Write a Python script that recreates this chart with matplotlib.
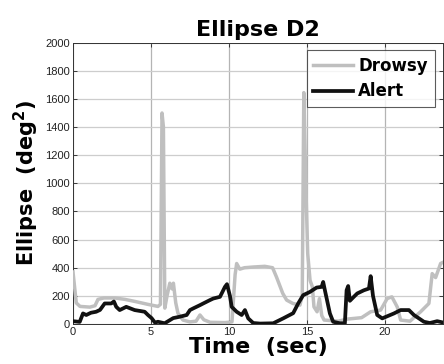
import matplotlib
matplotlib.use("Agg")
import matplotlib.pyplot as plt

# Drowsy trace: time (s) and ellipse area (deg^2)
drowsy_t = [0.02, 0.23, 0.47, 1.1, 1.43, 1.62, 2.0, 2.7, 3.35, 4.0, 4.8, 5.46,
            5.62, 5.72, 5.81, 5.9, 6.04, 6.22, 6.36, 6.45, 6.6, 6.74, 7.06, 7.5,
            7.9, 8.15, 8.4, 8.8, 9.75, 10.2, 10.4, 10.5, 10.7, 11.0, 11.55, 12.3,
            12.8, 13.05, 13.45, 13.7, 14.1, 14.55, 14.7, 14.8, 14.95, 15.05,
            15.2, 15.35, 15.45, 15.65, 15.8, 15.95, 16.1, 17.0, 17.6, 18.5,
            19.08, 19.72, 20.14, 20.44, 20.78, 21.0, 21.6, 22.28, 22.81, 23.02,
            23.24, 23.56, 23.74]
drowsy_v = [370, 150, 125, 120, 130, 175, 185, 185, 175, 160, 140, 125,
            140, 1500, 1400, 113, 200, 290, 250, 290, 150, 77, 28, 15,
            20, 64, 30, 12, 10, 15, 350, 430, 390, 400, 405, 410,
            400, 334, 218, 170, 146, 134, 200, 1645, 900, 500,
            310, 264, 122, 87, 180, 60, 28, 20, 35, 45,
            87, 99, 181, 193, 122, 28, 20, 87, 146, 358,
            330, 430, 440]

# Alert trace
alert_t = [0.02, 0.45, 0.66, 0.87, 1.17, 1.5, 1.75, 2.05, 2.47, 2.64, 2.79,
           3.01, 3.43, 3.97, 4.61, 4.82, 5.05, 5.27, 5.46, 5.89, 6.23, 6.44,
           6.87, 7.3, 7.51, 7.72, 8.15, 8.36, 8.79, 9.0, 9.43, 9.54, 9.75,
           9.88, 10.07, 10.18, 10.5, 10.82, 11.03, 11.24, 11.56, 12.0, 12.84,
           13.48, 14.12, 14.44, 14.76, 15.19, 15.62, 15.94, 16.04, 16.15,
           16.47, 16.68, 17.11, 17.43, 17.54, 17.64, 17.75, 18.0, 18.22,
           18.65, 18.97, 19.08, 19.23, 19.5, 19.82, 20.57, 21.0, 21.53,
           21.85, 22.17, 22.49, 22.87, 23.34, 23.74]
alert_v = [20, 15, 75, 64, 80, 87, 100, 146, 146, 160, 122,
           99, 122, 99, 87, 64, 42, 10, 16, 5, 28, 42,
           52, 64, 99, 111, 134, 146, 170, 181, 193, 217, 264,
           283, 200, 122, 87, 64, 99, 40, 7, 3, 5,
           40, 77, 146, 205, 228, 259, 264, 299, 240,
           75, 16, 5, 5, 240, 270, 165, 193, 217,
           240, 252, 340, 200, 64, 40, 75, 99, 99,
           64, 40, 16, 7, 20, 10]

x_ticks = [0, 5, 10, 15, 20]
y_ticks = list(range(0, 2001, 200))

tick_font = "Liberation Sans"

fig = plt.figure(figsize=(4.44, 3.64), dpi=100)
ax = fig.add_axes([0.1637, 0.1099, 0.835, 0.7728])

ax.plot(drowsy_t, drowsy_v, color="#bfbfbf", lw=2.5, label="Drowsy",
        solid_joinstyle="round", zorder=3)
ax.plot(alert_t, alert_v, color="#111111", lw=2.7, label="Alert",
        solid_joinstyle="round", zorder=4)

ax.set_xlim(0, 23.74)
ax.set_ylim(0, 2000)
ax.set_xticks(x_ticks)
ax.set_yticks(y_ticks)
ax.xaxis.grid(True, color="#b4b4b4", lw=0.9)
ax.yaxis.grid(True, color="#cdcdcd", lw=0.9)
ax.set_axisbelow(True)
ax.tick_params(direction="in", length=3, width=0.6, top=True, right=True,
               labelsize=8, pad=2, colors="#222222")
for lbl in ax.get_xticklabels() + ax.get_yticklabels():
    lbl.set_fontfamily(tick_font)
for s in ax.spines.values():
    s.set_linewidth(0.7)
    s.set_color("#333333")

ax.set_title("Ellipse D2", fontsize=16, fontweight="heavy",
             family="DejaVu Sans", pad=5)
ax.set_xlabel("Time  (sec)", fontsize=16, fontweight="heavy",
              family="DejaVu Sans", labelpad=0)
ax.set_ylabel("Ellipse  (deg$^\\mathbf{2}$)", fontsize=15, fontweight="heavy",
              family="DejaVu Sans", labelpad=3)

leg = ax.legend(loc="upper right", bbox_to_anchor=(0.985, 0.985),
                prop={"family": "DejaVu Sans", "weight": "heavy", "size": 12},
                frameon=True, fancybox=False, handlelength=2.4,
                handletextpad=0.3, borderpad=0.4, labelspacing=0.45,
                borderaxespad=0.2)
leg.get_frame().set_edgecolor("#333333")
leg.get_frame().set_linewidth(0.8)

fig.savefig("out.png", dpi=100)
